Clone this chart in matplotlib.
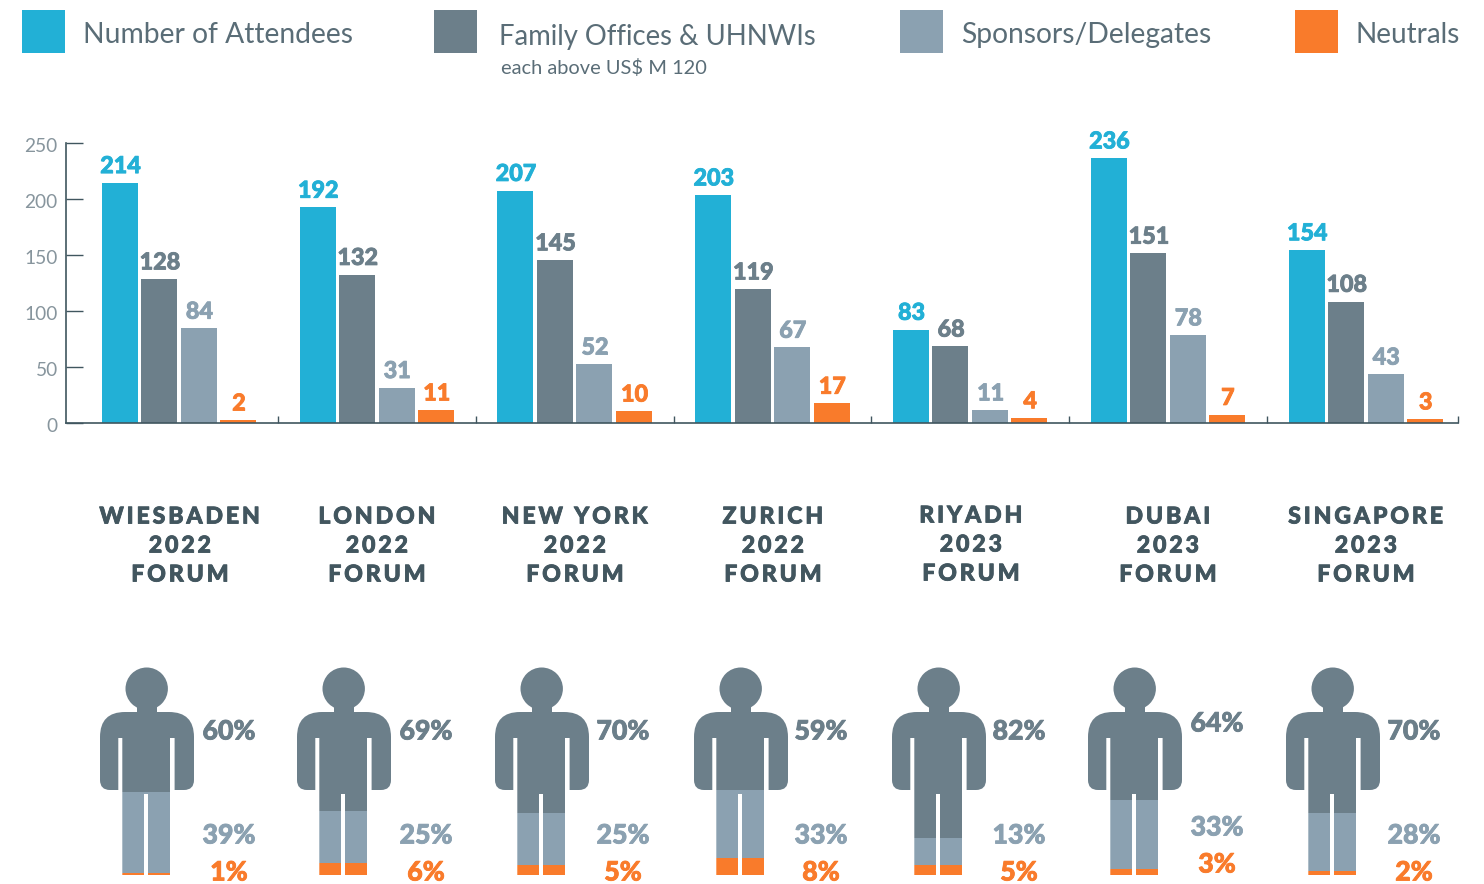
import numpy as np
import matplotlib
matplotlib.use("Agg")
import matplotlib.pyplot as plt
import matplotlib.patheffects as pe
from matplotlib.patches import Rectangle, Circle
from matplotlib.path import Path
from matplotlib.transforms import ScaledTranslation

plt.rcParams['font.family'] = ['Lato', 'DejaVu Sans']

foros = ["WIESBADEN\n2022\nFORUM", "LONDON\n2022\nFORUM", "NEW YORK\n2022\nFORUM", "ZURICH\n2022\nFORUM",
         "RIYADH\n2023\nFORUM", "DUBAI\n2023\nFORUM", "SINGAPORE\n2023\nFORUM"]
asistentes = [214, 192, 207, 203, 83, 236, 154]
familias = [128, 132, 145, 119, 68, 151, 108]
sponsors = [84, 31, 52, 67, 11, 78, 43]
neutrales = [2, 11, 10, 17, 4, 7, 3]

pct_familias = [60, 69, 70, 59, 82, 64, 70]
pct_sponsors = [39, 25, 25, 33, 13, 33, 28]
pct_neutrales = [1, 6, 5, 8, 5, 3, 2]

yticks = [0, 50, 100, 150, 200, 250]
leyenda = ["Number of Attendees", "Family Offices & UHNWIs", "Sponsors/Delegates", "Neutrals"]

AZUL = "#22b0d6"
OSCURO = "#6c7f8a"
CLARO = "#8ba1b1"
NARANJA = "#f97b2b"
LINEA = "#40565f"
TEXTO = "#42565f"


def grueso(color, ancho=0.6):
    return [pe.withStroke(linewidth=ancho, foreground=color)]


fig = plt.figure(figsize=(14.84, 8.84), dpi=100)

#----- Barras -----#
W, H = 1484, 884
G = 197.8
ax = fig.add_axes([66 / W, 1 - 422.5 / H, (1458 - 66) / W, 280 / H])
x = np.arange(len(foros))
paso = 39.5 / G
series = [(asistentes, AZUL), (familias, OSCURO), (sponsors, CLARO), (neutrales, NARANJA)]
for i, (valores, color) in enumerate(series):
    pos = x + (i - 1.5) * paso
    ax.bar(pos, valores, width=36 / G, color=color)
    for p, v in zip(pos, valores):
        ax.annotate(str(v), (p, v), xytext=(0.5, 7), textcoords="offset points", ha="center", va="baseline",
                    fontsize=16.8, fontweight="black", color=color, path_effects=grueso(color))

ax.set_xlim((66 - 179) / G, (1458 - 179) / G)
ax.set_ylim(0, 250)
ax.set_yticks(yticks)
ax.set_xticks(list(x[:-1] + 0.5) + [(1458 - 179) / G])
ax.set_xticklabels([])
ax.tick_params(axis="y", direction="in", length=12, width=1, color=LINEA, labelcolor="#87959d", labelsize=13.8, pad=6)
ax.tick_params(axis="x", direction="in", length=5, width=1, color=LINEA)
baja = ScaledTranslation(0, -1.5 / 72, fig.dpi_scale_trans)
for t in ax.get_yticklabels():
    t.set_transform(t.get_transform() + baja)
for lado in ["top", "right"]:
    ax.spines[lado].set_visible(False)
for lado in ["left", "bottom"]:
    ax.spines[lado].set_color(LINEA)
    ax.spines[lado].set_linewidth(1.2)

#----- Capa en pixeles: leyenda, ciudades, personas -----#
capa = fig.add_axes([0, 0, 1, 1], zorder=-1)
capa.set_xlim(0, W)
capa.set_ylim(H, 0)
capa.axis("off")

for cx, color in zip([22, 434, 900, 1295], [AZUL, OSCURO, CLARO, NARANJA]):
    capa.add_patch(Rectangle((cx, 10), 43, 43, color=color, lw=0))
for tx, ty, fs, s in zip([83, 499, 961, 1355], [35, 37, 35, 35], [20.3, 19.8, 20.3, 20.1], leyenda):
    capa.text(tx, ty, s, fontsize=fs, color="#5a6d77", va="center", ha="left")
capa.text(501, 68, "each above US$ M 120", fontsize=14.4, color="#5a6d77", va="center", ha="left")

centros = [180, 377, 575, 773, 971, 1168, 1366]
ajuste_y = [0, 0, 0, 0, -1, 0, 0]
for c, dy, s in zip(centros, ajuste_y, foros):
    for j, linea in enumerate(s.split("\n")):
        capa.text(c, 517 + 29 * j + dy, "\u200a\u200a".join(linea), fontsize=16.6, fontweight="black",
                  color=TEXTO, ha="center", va="center", path_effects=grueso(TEXTO))


def silueta(x0, y0):
    d = [(25, 45), (69, 45), (94, 45), (94, 70), (94, 113), (94, 123), (84, 123), (74.6, 123), (74.6, 71), (70, 71),
         (70, 208), (48, 208), (48, 127), (44, 127), (44, 208), (22.3, 208), (22.3, 71), (18.3, 71), (18.3, 123),
         (10, 123), (0, 123), (0, 113), (0, 70), (0, 45), (25, 45)]
    c = [Path.MOVETO, Path.LINETO, Path.CURVE3, Path.CURVE3, Path.LINETO, Path.CURVE3, Path.CURVE3, Path.LINETO,
         Path.LINETO, Path.LINETO, Path.LINETO, Path.LINETO, Path.LINETO, Path.LINETO, Path.LINETO, Path.LINETO,
         Path.LINETO, Path.LINETO, Path.LINETO, Path.LINETO, Path.CURVE3, Path.CURVE3, Path.LINETO, Path.CURVE3,
         Path.CURVE3]
    return Path([(x0 + a, y0 + b) for a, b in d], c)


izquierdas = [100, 297, 495, 694, 892, 1088, 1286]
etiquetas_x = [229, 426, 623, 821, 1019, 1217, 1414]
ajuste_etq = [0, 0, 0, 0, 0, -8, 0]
ALTO = 208
for i in range(len(foros)):
    x0, y0 = izquierdas[i], 667
    capa.add_patch(Circle((x0 + 46.7, y0 + 21.7), 21.2, color=OSCURO, lw=0))
    capa.add_patch(Rectangle((x0 + 37, y0 + 35), 20, 12, color=OSCURO, lw=0))
    cuerpo = silueta(x0, y0)
    tope = y0
    for pct, color in zip([pct_familias[i], pct_sponsors[i], pct_neutrales[i]], [OSCURO, CLARO, NARANJA]):
        alto = ALTO * pct / 100
        r = Rectangle((x0 - 1, tope), 96, alto, color=color, lw=0)
        capa.add_patch(r)
        r.set_clip_path(cuerpo, transform=capa.transData)
        tope += alto
    for y, pct, color in zip([731.5, 835.5, 872.5], [pct_familias[i], pct_sponsors[i], pct_neutrales[i]],
                             [OSCURO, CLARO, NARANJA]):
        capa.text(etiquetas_x[i], y + ajuste_etq[i], f"{pct}%", fontsize=19.2, fontweight="black", color=color,
                  ha="center", va="center", path_effects=grueso(color))

plt.savefig("out.png", dpi=100)
